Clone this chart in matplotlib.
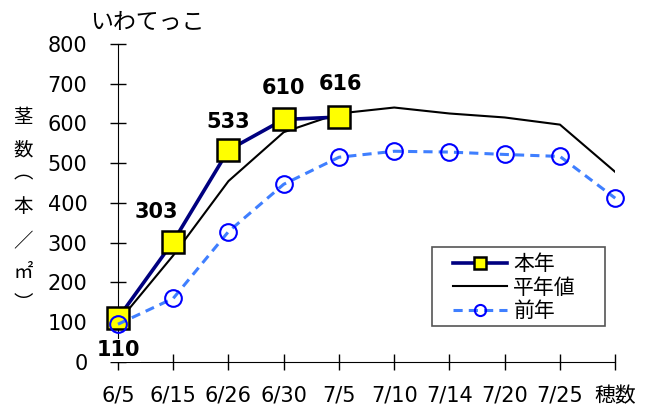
import matplotlib.pyplot as plt
from matplotlib.patches import Rectangle

plt.rcParams['font.family'] = ['DejaVu Sans', 'Noto Sans CJK JP']

dates = ['6/5', '6/15', '6/26', '6/30', '7/5', '7/10', '7/14', '7/20', '7/25', '穂数']
honnen = [110, 303, 533, 610, 616]
heinen = [100, 268, 455, 578, 625, 640, 625, 615, 597, 478]
zennen = [95, 160, 328, 447, 515, 530, 528, 522, 517, 412]
title = 'いわてっこ'
ylabel_chars = ['茎', '数', '︵', '本', '／', '㎡', '︶']
cjk = ['Noto Sans CJK JP', 'DejaVu Sans']

fig = plt.figure(figsize=(6.5, 4.12), dpi=100)
ax = fig.add_axes([0.1815, 0.1214, 0.765, 0.772])

x = list(range(len(dates)))
ax.plot(x, heinen, color='black', lw=1.5, label='平年値', zorder=3)
ax.plot(x[:len(honnen)], honnen, color='#000080', lw=2.6, marker='s', ms=16,
        mfc='#FFFF00', mec='black', mew=1.8, label='本年', zorder=4, clip_on=False)
ax.plot(x, zennen, color='#3F7FFF', lw=2.2, ls=(0, (3, 2)), marker='o', ms=12,
        mfc='none', mec='#0000FF', mew=1.5, label='前年', zorder=5, clip_on=False)

# label offsets in points (dx, dy)
offsets = [(0, -23), (-12, 21), (0, 20), (0, 23), (1, 24)]
for i, v in enumerate(honnen):
    dx, dy = offsets[i]
    kw = {}
    if i == 0:
        kw['bbox'] = dict(fc='white', ec='none', pad=1)
    ax.annotate(str(v), (i, v), xytext=(dx, dy), textcoords='offset points',
                ha='center', va='center', fontsize=15, fontweight='bold',
                zorder=6, **kw)

ax.set_xlim(0, len(dates) - 1)
ax.set_ylim(0, 800)
ax.set_yticks(range(0, 801, 100))
ax.set_xticks(x)
ax.set_xticklabels(dates)
ax.spines['top'].set_visible(False)
ax.spines['right'].set_visible(False)
ax.tick_params(axis='both', direction='inout', length=12, width=1, labelsize=15)
ax.tick_params(axis='y', pad=16)
ax.tick_params(axis='x', pad=11)
ax.get_xticklabels()[-1].set_family(cjk)

fig.text(90 / 650, 1 - 22 / 412, title, fontsize=16.5, ha='left', va='center', family=cjk)
ypos = [118, 150, 173, 207, 242, 272, 303]
for ch, yp in zip(ylabel_chars, ypos):
    fig.text(23 / 650, 1 - yp / 412, ch, fontsize=14, ha='center', va='center', family=cjk)

h, l = ax.get_legend_handles_labels()
order = [1, 0, 2]
leg = ax.legend([h[i] for i in order], [l[i] for i in order],
                loc='upper left', bbox_to_anchor=(453 / 650, 1 - 253 / 412),
                bbox_transform=fig.transFigure, prop={'family': cjk, 'size': 15},
                frameon=False, handlelength=2.6, borderpad=0, labelspacing=0.08,
                handletextpad=0.3, borderaxespad=0)
for lh in leg.legend_handles:
    lh.set_markersize(8)
fig.patches.append(Rectangle((432 / 650, 1 - 326 / 412), 173 / 650, 79 / 412,
                             transform=fig.transFigure, fill=False,
                             edgecolor='#555555', lw=1.2))

fig.savefig('out.png', dpi=100)
